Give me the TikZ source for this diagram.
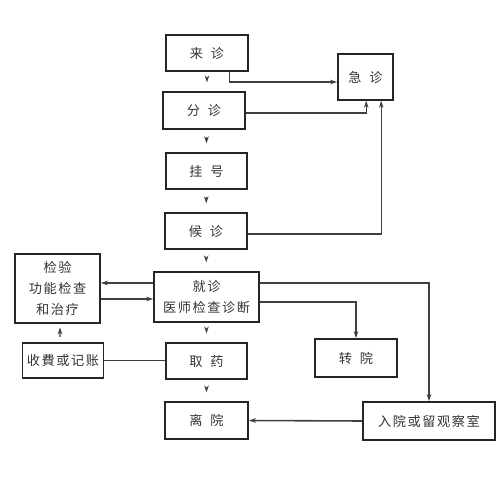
\documentclass[tikz,border=0pt]{standalone}
\usepackage{fontspec}
\newfontfamily\cjk[LetterSpace=12]{Noto Sans CJK SC}
\newfontfamily\cjkwide[LetterSpace=60]{Noto Sans CJK SC}
\usetikzlibrary{calc,arrows.meta}
\tikzset{
  box/.style={draw=black!85, line width=0.9pt, inner sep=0pt, align=center,
    font=\cjk\fontsize{7.5}{12}\selectfont, text=black!80},
  wide/.style={font=\cjkwide\fontsize{7.5}{12}\selectfont},
  conn/.style={draw=black!75, line width=0.6pt},
  arr/.style={conn, -{Stealth[length=4pt,width=2.6pt]}},
  sarr/.style={arr, shorten <=4pt, shorten >=5pt}
}
\begin{document}
\begin{tikzpicture}[x=0.02cm,y=-0.02cm]
\useasboundingbox (0,0) rectangle (500,501);
\node[box,wide,minimum width=82*0.02cm,minimum height=36*0.02cm] (laizhen) at (207,53) {来诊};
\node[box,wide,minimum width=55*0.02cm,minimum height=46*0.02cm] (jizhen) at (365.5,77) {急诊};
\node[box,wide,minimum width=82*0.02cm,minimum height=37*0.02cm] (fenzhen) at (204,110.5) {分诊};
\node[box,wide,minimum width=81*0.02cm,minimum height=36*0.02cm] (guahao) at (206.5,171) {挂号};
\node[box,wide,minimum width=82*0.02cm,minimum height=36*0.02cm] (houzhen) at (206,231) {候诊};
\node[box,minimum width=105*0.02cm,minimum height=50*0.02cm] (jiuzhen) at (206.5,297) {就诊\\医师检查诊断};
\node[box,minimum width=85*0.02cm,minimum height=69*0.02cm] (jianyan) at (57.5,288.5) {检验\\功能检查\\和治疗};
\node[box,minimum width=81*0.02cm,minimum height=35*0.02cm] (shoufei) at (63,360.5) {收費或记账};
\node[box,wide,minimum width=81*0.02cm,minimum height=36*0.02cm] (quyao) at (206.5,361) {取药};
\node[box,wide,minimum width=82*0.02cm,minimum height=38*0.02cm] (zhuanyuan) at (356,358) {转院};
\node[box,wide,minimum width=83*0.02cm,minimum height=37*0.02cm] (liyuan) at (206.5,420.5) {离院};
\node[box,minimum width=132*0.02cm,minimum height=38*0.02cm] (ruyuan) at (429,421) {入院或留观察室};

% vertical short arrows
\draw[sarr] (laizhen) -- (fenzhen.north -| laizhen);
\draw[sarr] (fenzhen.south -| guahao) -- (guahao);
\draw[sarr] (guahao) -- (houzhen);
\draw[sarr] (houzhen) -- (jiuzhen);
\draw[sarr] (jiuzhen) -- (quyao);
\draw[sarr] (quyao) -- (liyuan);

% to emergency
\draw[arr] ($(laizhen.south east)+(-19,0)$) |- ($(jizhen.west)+(0,5)$);
\coordinate (f1) at ($(fenzhen.east)+(0,2.5)$);
\draw[arr] (f1) -| ($(jizhen.south west)+(29,0)$);
\coordinate (h1) at ($(houzhen.east)+(0,3)$);
\draw[arr] (h1) -| ($(jizhen.south west)+(44,0)$);

% examination loop
\coordinate (j1) at ($(jiuzhen.west)+(0,-14)$);
\draw[arr] (j1) -- (j1 -| jianyan.east);
\coordinate (j2) at ($(jianyan.east)+(0,10.5)$);
\draw[arr] (j2) -- (j2 -| jiuzhen.west);
\draw[arr, shorten <=3pt, shorten >=2pt] ($(shoufei.north)+(-3,0)$) -- ($(jianyan.south)+(2.5,0)$);
\draw[conn] (shoufei.east) -- (shoufei.east -| quyao.west);

% from diagnosis
\coordinate (k1) at ($(jiuzhen.east)+(0,5)$);
\draw[arr] (k1) -| (zhuanyuan.north);
\coordinate (k2) at ($(jiuzhen.east)+(0,-14)$);
\draw[arr, line width=0.8pt] (k2) -| (ruyuan.north);
\draw[arr, line width=0.9pt] (ruyuan.west) -- (liyuan.east);
\end{tikzpicture}
\end{document}
